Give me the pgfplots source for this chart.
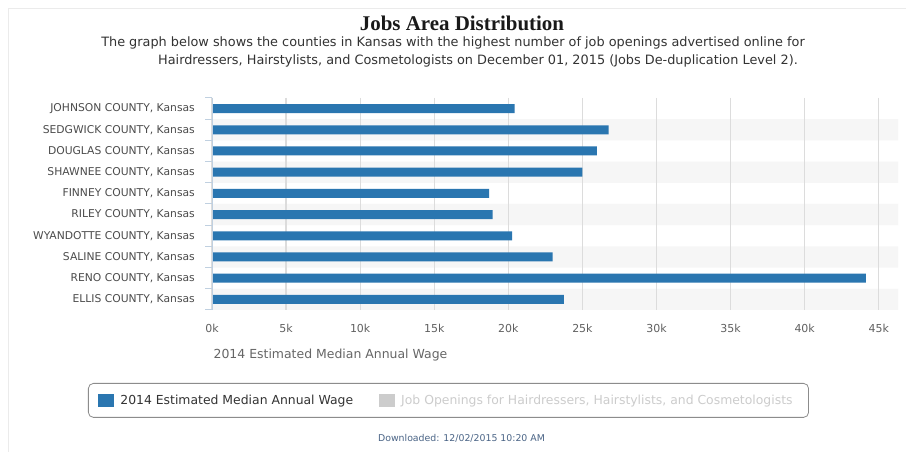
\documentclass[border=0pt]{standalone}
\usepackage{fontspec}
\setmainfont{DejaVu Sans}
\newfontfamily\titlefont{Liberation Serif}
\usepackage{pgfplots}
\pgfplotsset{compat=1.18}
\definecolor{barblue}{HTML}{2A76B0}
\definecolor{band}{HTML}{F6F6F6}
\definecolor{gridc}{HTML}{DCDCDC}
\definecolor{axisc}{HTML}{C0D0E0}
\definecolor{dlc}{HTML}{4A6486}
\begin{document}
\begin{tikzpicture}[x=1bp,y=1bp]
\path[fill=white,use as bounding box] (0,0) rectangle (906,452);
\draw[black!8,line width=1bp] (8.5,0) -- (8.5,443.5) -- (906,443.5);
\node[anchor=base, font=\titlefont\bfseries\fontsize{21}{24}\selectfont, text=black!90, inner sep=0pt] at (462,421) {Jobs Area Distribution};
\node[anchor=base, font=\fontsize{12.9}{15}\selectfont, text=black!80, inner sep=0pt] at (453,405) {The graph below shows the counties in Kansas with the highest number of job openings advertised online for};
\node[anchor=base, font=\fontsize{12.9}{15}\selectfont, text=black!80, inner sep=0pt] at (478,387) {Hairdressers, Hairstylists, and Cosmetologists on December 01, 2015 (Jobs De-duplication Level 2).};
\begin{axis}[
  at={(212bp,142bp)}, anchor=south west, scale only axis,
  width=686bp, height=212bp,
  xmin=0, xmax=46.3, ymin=-0.5, ymax=9.5, y dir=reverse,
  axis line style={draw=none},
  tick style={draw=none},
  xtick={0,5,...,45},
  xticklabels={0k,5k,10k,15k,20k,25k,30k,35k,40k,45k},
  xticklabel style={font=\fontsize{11}{12}\selectfont, text=black!62, anchor=center, inner sep=0pt, yshift=-18bp},
  ytick={0,...,9},
  yticklabels={{JOHNSON COUNTY, Kansas},{SEDGWICK COUNTY, Kansas},{DOUGLAS COUNTY, Kansas},{SHAWNEE COUNTY, Kansas},{FINNEY COUNTY, Kansas},{RILEY COUNTY, Kansas},{WYANDOTTE COUNTY, Kansas},{SALINE COUNTY, Kansas},{RENO COUNTY, Kansas},{ELLIS COUNTY, Kansas}},
  yticklabel style={font=\fontsize{10.8}{12}\selectfont, text=black!70, anchor=east, inner sep=0pt, xshift=-17bp},
  clip=false,
  legend columns=2, legend cell align=left,
  legend style={at={(0,0)}, anchor=north west, xshift=-124bp, yshift=-73bp,
    draw=black!45, rounded corners=5bp, line width=0.8bp,
    inner xsep=10bp, inner ysep=10.5bp,
    font=\fontsize{12.45}{14}\selectfont,
    nodes={inner sep=0pt},
    /tikz/every even column/.append style={column sep=26bp},
    /tikz/every odd column/.append style={column sep=6bp}},
]
\addplot[xbar, bar width=21.2bp, bar shift=0pt, fill=band, draw=none, forget plot]
  coordinates {(46.3,1) (46.3,3) (46.3,5) (46.3,7) (46.3,9)};
\pgfplotsinvokeforeach{0,5,10,15,20,25,30,35,40,45}{
  \draw[gridc, line width=1.3bp] (axis cs:#1,-0.5) -- (axis cs:#1,9.5);
}
\addplot[xbar, bar width=9bp, bar shift=0pt, fill=barblue, draw=none,
  legend image code/.code={\fill[barblue, sharp corners] (0bp,-6.5bp) rectangle (16bp,6.5bp);}]
  coordinates {(20.42,0) (26.77,1) (25.98,2) (24.99,3) (18.71,4) (18.94,5) (20.26,6) (22.99,7) (44.13,8) (23.75,9)};
\addlegendentry{\textcolor{black!80}{2014 Estimated Median Annual Wage}}
\addplot[xbar, bar width=9bp, bar shift=0pt, fill=black!20, draw=none,
  legend image code/.code={\fill[black!20, sharp corners] (0bp,-6.5bp) rectangle (16bp,6.5bp);}]
  coordinates {(0.01,0)};
\addlegendentry{\textcolor{black!20}{Job Openings for Hairdressers, Hairstylists, and Cosmetologists}\hspace*{6bp}}
\draw[axisc, line width=1bp] (axis cs:0,-0.5) -- (axis cs:0,9.5);
\pgfplotsinvokeforeach{-0.5,0.5,1.5,2.5,3.5,4.5,5.5,6.5,7.5,8.5,9.5}{
  \draw[axisc, line width=1bp] (axis cs:0,#1) -- (axis cs:-0.47,#1);
}
\end{axis}
\node[anchor=base, font=\fontsize{12.5}{14}\selectfont, text=black!60, inner sep=0pt] at (330.5,93.5) {2014 Estimated Median Annual Wage};
\node[anchor=base, font=\fontsize{9.4}{11}\selectfont, text=dlc, inner sep=0pt] at (461.5,10.5) {Downloaded: 12/02/2015 10:20 AM};
\end{tikzpicture}
\end{document}
